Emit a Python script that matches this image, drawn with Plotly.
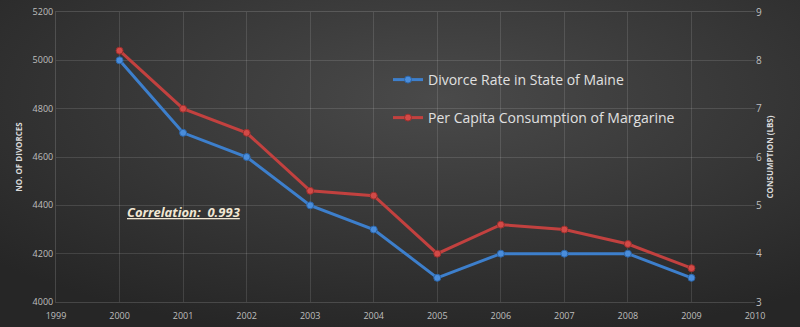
import base64
import plotly.graph_objects as go

years = [2000, 2001, 2002, 2003, 2004, 2005, 2006, 2007, 2008, 2009]
divorces = [5000, 4700, 4600, 4400, 4300, 4100, 4200, 4200, 4200, 4100]
margarine = [8.2, 7.0, 6.5, 5.3, 5.2, 4.0, 4.6, 4.5, 4.2, 3.7]
x_ticks = list(range(1999, 2011))
left_ticks = [4000, 4200, 4400, 4600, 4800, 5000, 5200]
right_ticks = [3, 4, 5, 6, 7, 8, 9]

svg = ('<svg xmlns="http://www.w3.org/2000/svg" width="800" height="327">'
       '<defs><radialGradient id="g" cx="0.55" cy="0.3" r="0.75">'
       '<stop offset="0" stop-color="#4a4a4a"/><stop offset="1" stop-color="#262626"/>'
       '</radialGradient></defs><rect width="800" height="327" fill="url(#g)"/></svg>')
bg = "data:image/svg+xml;base64," + base64.b64encode(svg.encode()).decode()

PW, PH = 699, 290

fig = go.Figure()
fig.add_trace(go.Scatter(x=years, y=divorces, name="Divorce Rate in State of Maine",
                         mode="lines+markers", line=dict(color="#3d7fcc", width=3),
                         marker=dict(size=7, color="#4a8ddb", line=dict(color="#2a64a8", width=1)),
                         legend="legend", showlegend=True))
fig.add_trace(go.Scatter(x=years, y=margarine, name="Per Capita Consumption of Margarine",
                         mode="lines+markers", yaxis="y2", line=dict(color="#c2413f", width=3),
                         marker=dict(size=7, color="#d24a47", line=dict(color="#9a2e2c", width=1)),
                         legend="legend2", showlegend=True))

legend_common = dict(xanchor="left", yanchor="middle", bgcolor="rgba(0,0,0,0)",
                     font=dict(size=14, color="#e0e0e0"), itemwidth=30, visible=True)

fig.update_layout(
    width=800, height=327, showlegend=True,
    margin=dict(l=56, r=45, t=12, b=25, autoexpand=False),
    paper_bgcolor="#333333", plot_bgcolor="rgba(0,0,0,0)",
    images=[dict(source=bg, xref="paper", yref="paper", x=-56/PW, y=1+12/PH,
                 sizex=800/PW, sizey=327/PH, sizing="stretch", layer="below",
                 xanchor="left", yanchor="top")],
    font=dict(family="Open Sans, Liberation Sans, sans-serif", color="#bfbfbf", size=9),
    xaxis=dict(range=[1999, 2010], tickvals=x_ticks, showgrid=True, automargin=False,
               gridcolor="rgba(255,255,255,0.12)", zeroline=False,
               showline=True, linecolor="rgba(255,255,255,0.15)", mirror=True,
               ticks="outside", ticklen=5, tickcolor="rgba(0,0,0,0)",
               tickfont=dict(size=9, color="#bfbfbf")),
    yaxis=dict(range=[4000, 5200], tickvals=left_ticks, showgrid=True, automargin=False,
               gridcolor="rgba(255,255,255,0.12)", zeroline=False,
               showline=True, linecolor="rgba(255,255,255,0.15)",
               title=dict(text="<b>NO. OF DIVORCES</b>", font=dict(size=8, color="#d9d9d9"), standoff=8),
               tickfont=dict(size=9, color="#bfbfbf")),
    yaxis2=dict(range=[3, 9], tickvals=right_ticks, overlaying="y", side="right",
                showgrid=False, zeroline=False, automargin=False,
                title=dict(text="<b>CONSUMPTION (LBS)</b>", font=dict(size=8, color="#d9d9d9"), standoff=6),
                tickfont=dict(size=10, color="#bfbfbf")),
    legend=dict(x=(388-56)/PW, y=(302-80)/PH, **legend_common),
    legend2=dict(x=(388-56)/PW, y=(302-118)/PH, **legend_common),
    annotations=[dict(text="<b><i><u>Correlation:  0.993</u></i></b>", xref="paper", yref="paper",
                      x=(125-56)/PW, y=(302-212)/PH, xanchor="left", yanchor="middle",
                      showarrow=False, font=dict(size=13, color="#f0e6d2"))],
)
fig.write_html("out.html")
